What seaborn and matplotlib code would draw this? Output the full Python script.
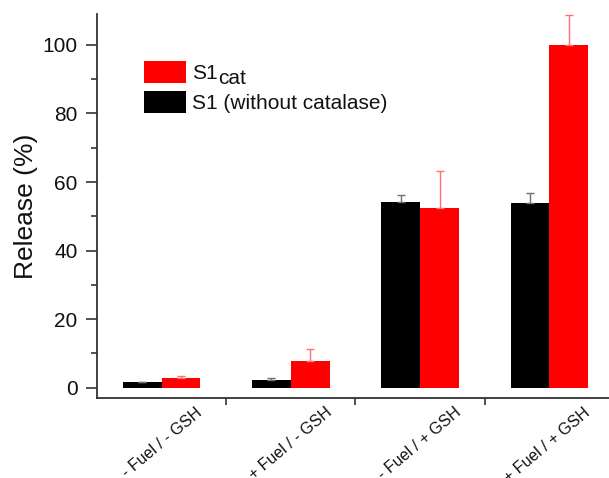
import matplotlib
matplotlib.use("Agg")
import matplotlib.pyplot as plt
import matplotlib.transforms as mtransforms
import numpy as np
import pandas as pd
import seaborn as sns

# Release data per condition
conditions = ["- Fuel / - GSH", "+ Fuel / - GSH", "- Fuel / + GSH", "+ Fuel / + GSH"]
s1_release = [1.6, 2.2, 54.3, 53.8]
s1_err = [0.2, 0.5, 2.0, 2.9]
s1cat_release = [2.9, 7.7, 52.5, 100.0]
s1cat_err = [0.5, 3.6, 10.6, 8.8]

series_names = ["S1 (without catalase)", "S1"]
series_colors = ["#000000", "#ff0000"]
err_colors = ["#707070", "#ff7070"]

df = pd.DataFrame({
    "condition": conditions * 2,
    "release": s1_release + s1cat_release,
    "series": [series_names[0]] * 4 + [series_names[1]] * 4,
})

sns.set_style("ticks")
plt.rcParams["font.family"] = ["Liberation Sans", "DejaVu Sans"]
for key in ["text.color", "axes.labelcolor", "xtick.labelcolor", "ytick.labelcolor"]:
    plt.rcParams[key] = "#111111"

fig = plt.figure(figsize=(6.09, 4.78), dpi=100)
ax = fig.add_axes([97 / 609, 80 / 478, 517 / 609, 384 / 478])

sns.barplot(data=df, x="condition", y="release", hue="series",
            hue_order=series_names, palette=series_colors, width=0.6,
            gap=0, errorbar=None, linewidth=0, saturation=1, ax=ax)

# upper error bars on each bar
for container, errs, ec in zip(ax.containers, [s1_err, s1cat_err], err_colors):
    for bar, e in zip(container, errs):
        xc = bar.get_x() + bar.get_width() / 2
        h = bar.get_height()
        ax.errorbar([xc], [h], yerr=[[0], [e]], fmt="none", ecolor=ec,
                    elinewidth=1.0, capsize=3, capthick=1.0, zorder=3)

ax.set_xlim(-0.5, 3.5)
ax.set_ylim(-3, 109)
ax.set_yticks([0, 20, 40, 60, 80, 100])
ax.set_yticks([10, 30, 50, 70, 90], minor=True)
ax.set_xticks([0.5, 1.5, 2.5], minor=True)

for side in ["top", "right"]:
    ax.spines[side].set_visible(False)
for side in ["left", "bottom"]:
    ax.spines[side].set_linewidth(1.3)
    ax.spines[side].set_color("#333333")

ax.tick_params(axis="y", which="major", length=8, width=1.2, color="#333333",
               labelsize=15, pad=6, direction="out")
ax.tick_params(axis="y", which="minor", length=4, width=1.2, color="#333333",
               direction="out")
ax.tick_params(axis="x", which="major", length=0, pad=5, labelsize=11.5)
ax.tick_params(axis="x", which="minor", length=5, width=1.2, color="#333333",
               direction="out")

ax.set_xticks(range(len(conditions)))
ax.set_xticklabels(conditions, rotation=40, ha="right", va="top",
                   rotation_mode="anchor")
offset = mtransforms.ScaledTranslation(34 / 100, 0, fig.dpi_scale_trans)
for lbl in ax.get_xticklabels():
    lbl.set_transform(lbl.get_transform() + offset)

ax.set_xlabel("")
ax.set_ylabel("Release (%)", fontsize=19, labelpad=3)

handles, labels = ax.get_legend_handles_labels()
leg = ax.legend(handles[::-1], labels[::-1], loc="upper left",
                bbox_to_anchor=(0.075, 0.90), frameon=False, fontsize=15,
                handlelength=2.0, handleheight=1.3, handletextpad=0.3,
                labelspacing=0.35, borderaxespad=0)

# subscript "cat" after the S1 label, same size, lowered
fig.canvas.draw()
txt = leg.get_texts()[0]
bb = txt.get_window_extent()
inv = fig.transFigure.inverted()
x0, y0 = inv.transform((bb.x1 + 0.5, bb.y0 - 5))
fig.text(x0, y0, "cat", fontsize=15, ha="left", va="bottom")

fig.savefig("out.png", dpi=100)
